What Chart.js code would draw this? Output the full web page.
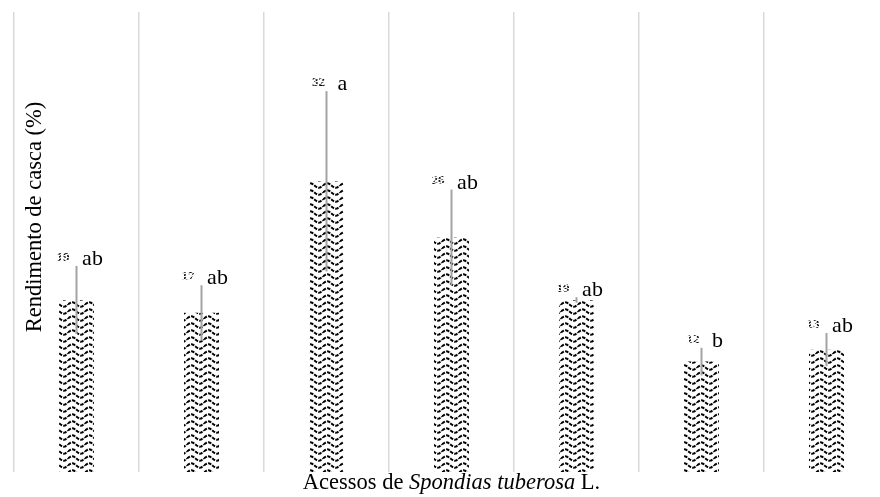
<!DOCTYPE html>
<html>
<head>
<meta charset="utf-8">
<script src="https://cdn.jsdelivr.net/npm/chart.js@4"></script>
<style>
  html, body { margin: 0; padding: 0; background: #fff; overflow: hidden; }
  #wrap { width: 880px; height: 497px; overflow: hidden; }
</style>
</head>
<body>
<div id="wrap"><canvas id="c" width="900" height="497"></canvas></div>
<script>
// Shell yield (%) of Spondias tuberosa accessions, mean ± standard deviation
const categories = ['Acesso 1', 'Acesso 2', 'Acesso 3', 'Acesso 4', 'Acesso 5', 'Acesso 6', 'Acesso 7'];
const yieldMeans = [18.7, 17.3, 31.6, 25.5, 18.7, 12.0, 13.3];
const yieldSD = [3.7, 3.0, 9.8, 5.2, 0.3, 1.5, 1.8];
const groupLetters = ['ab', 'ab', 'a', 'ab', 'ab', 'b', 'ab'];
const axisMax = 50;

const SERIF = '"Liberation Serif", "Times New Roman", serif';

// Wavy hatch used to fill the bars
function makeWavePattern(w, h, amp, lw, dash) {
  const c = document.createElement('canvas');
  c.width = w; c.height = h;
  const g = c.getContext('2d');
  g.fillStyle = '#fff';
  g.fillRect(0, 0, w, h);
  g.strokeStyle = '#000';
  g.lineWidth = lw;
  if (dash) g.setLineDash(dash);
  g.beginPath();
  for (let x = 0; x <= w; x += 0.5) {
    const y = h / 2 - amp * Math.sin(2 * Math.PI * x / w);
    if (x === 0) g.moveTo(x, y); else g.lineTo(x, y);
  }
  g.stroke();
  return g.createPattern(c, 'repeat');
}

const ctx0 = document.getElementById('c').getContext('2d');
const barPattern = makeWavePattern(17, 7, 2.2, 2, [3.5, 1.2]);
const textPattern = makeWavePattern(6, 3, 0.6, 1.6, null);

const annotate = {
  id: 'annotate',
  afterDatasetsDraw(chart) {
    const ctx = chart.ctx;
    const y = chart.scales.y;
    const meta = chart.getDatasetMeta(0);
    ctx.save();
    meta.data.forEach((bar, i) => {
      const x = bar.x;
      const m = yieldMeans[i], s = yieldSD[i];
      const top = y.getPixelForValue(m + s);
      const bot = y.getPixelForValue(m - s);
      // error bar
      ctx.strokeStyle = '#a3a3a3';
      ctx.lineWidth = 2;
      ctx.beginPath();
      ctx.moveTo(x, top);
      ctx.lineTo(x, bot);
      ctx.stroke();
      // value + group letters
      ctx.font = '22px ' + SERIF;
      const w = ctx.measureText(groupLetters[i]).width;
      const vw = 10, gap = 14;
      const left = x + 4 - (vw + gap + w) / 2;
      ctx.font = 'bold 13px ' + SERIF;
      ctx.fillStyle = textPattern;
      ctx.textAlign = 'center';
      ctx.textBaseline = 'middle';
      ctx.fillText(String(Math.round(m)), left + vw / 2, top - 8.5);
      ctx.font = '22px ' + SERIF;
      ctx.fillStyle = '#000';
      ctx.textAlign = 'left';
      ctx.textBaseline = 'alphabetic';
      ctx.fillText(groupLetters[i], left + vw + gap, top - 1);
    });
    ctx.restore();
  },
  afterDraw(chart) {
    const ctx = chart.ctx;
    const area = chart.chartArea;
    ctx.save();
    ctx.fillStyle = '#000';
    // vertical axis title
    ctx.font = '22.5px ' + SERIF;
    ctx.translate(35, 217);
    ctx.rotate(-Math.PI / 2);
    ctx.textAlign = 'center';
    ctx.textBaseline = 'middle';
    ctx.fillText('Rendimento de casca (%)', 0, 0);
    ctx.restore();

    // horizontal axis title with italic species name
    ctx.save();
    ctx.fillStyle = '#000';
    ctx.textBaseline = 'alphabetic';
    ctx.textAlign = 'left';
    const parts = [
      ['Acessos de ', '22.5px ' + SERIF],
      ['Spondias tuberosa', 'italic 22.5px ' + SERIF],
      [' L.', '22.5px ' + SERIF]
    ];
    let total = 0;
    parts.forEach(p => { ctx.font = p[1]; total += ctx.measureText(p[0]).width; });
    let xs = (area.left + area.right) / 2 - total / 2;
    parts.forEach(p => {
      ctx.font = p[1];
      ctx.fillText(p[0], xs, 489);
      xs += ctx.measureText(p[0]).width;
    });
    ctx.restore();
  }
};

new Chart(ctx0, {
  type: 'bar',
  data: {
    labels: categories,
    datasets: [{
      data: yieldMeans,
      backgroundColor: barPattern,
      borderWidth: 0,
      barPercentage: 0.28,
      categoryPercentage: 1
    }]
  },
  options: {
    responsive: false,
    animation: false,
    devicePixelRatio: 1,
    layout: { padding: { left: 14, right: 11, top: 12, bottom: 25 } },
    plugins: { legend: { display: false }, tooltip: { enabled: false } },
    scales: {
      x: {
        grid: { offset: true, color: '#d9d9d9', lineWidth: 1.5, drawTicks: false },
        border: { display: false },
        ticks: { display: false },
        afterFit(scale) { scale.height = 0; }
      },
      y: { display: false, min: 0, max: axisMax }
    }
  },
  plugins: [annotate]
});
</script>
</body>
</html>
